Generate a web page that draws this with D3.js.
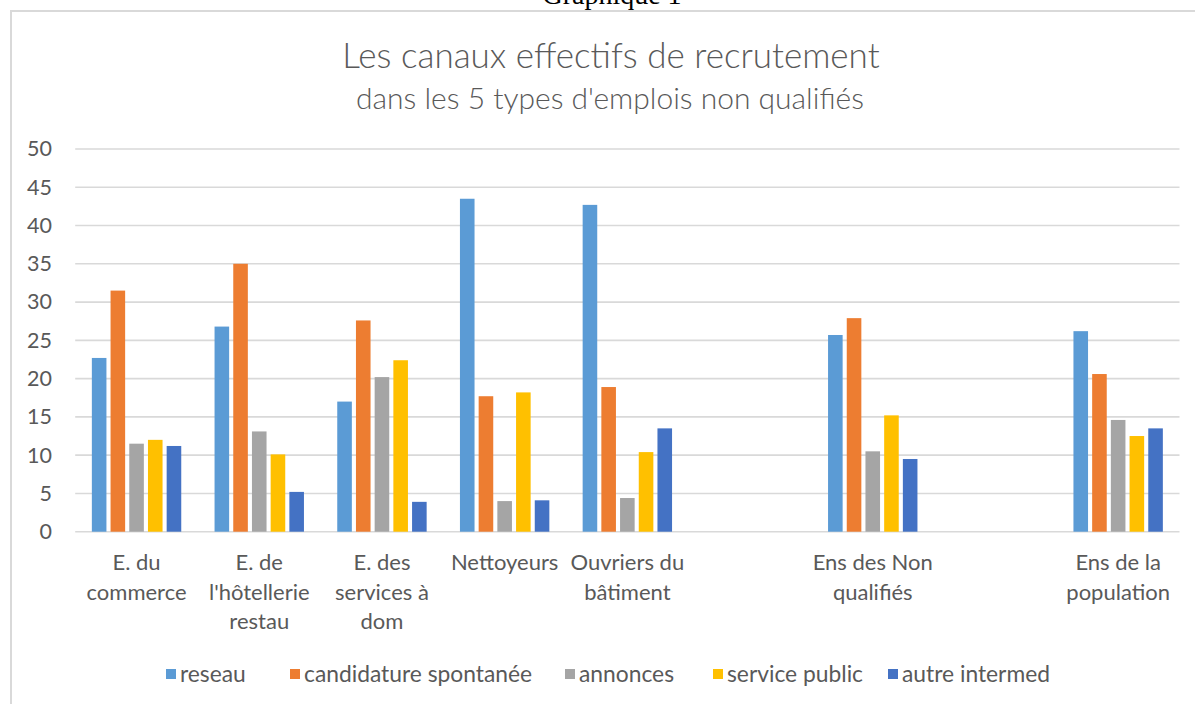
<!DOCTYPE html>
<html>
<head>
<meta charset="utf-8">
<script src="https://cdn.jsdelivr.net/npm/d3@7"></script>
<style>
  html, body { margin: 0; padding: 0; background: #fff; }
  svg { display: block; }
  text { font-family: Lato, "Open Sans", sans-serif; }
</style>
</head>
<body>
<svg id="chart" width="1195" height="704"></svg>
<script>
// ---- data ----
const categories = [
  ["E. du", "commerce"],
  ["E. de", "l'hôtellerie", "restau"],
  ["E. des", "services à", "dom"],
  ["Nettoyeurs"],
  ["Ouvriers du", "bâtiment"],
  [],
  ["Ens des Non", "qualifiés"],
  [],
  ["Ens de la", "population"]
];
const seriesNames = ["reseau", "candidature spontanée", "annonces", "service public", "autre intermed"];
const reseau      = [22.7, 26.8, 17.0, 43.5, 42.7, null, 25.7, null, 26.2];
const candidature = [31.5, 35.0, 27.6, 17.7, 18.9, null, 27.9, null, 20.6];
const annonces    = [11.5, 13.1, 20.2,  4.0,  4.4, null, 10.5, null, 14.6];
const servicePub  = [12.0, 10.1, 22.4, 18.2, 10.4, null, 15.2, null, 12.5];
const autre       = [11.2,  5.2,  3.9,  4.1, 13.5, null,  9.5, null, 13.5];
const yTicks = [0, 5, 10, 15, 20, 25, 30, 35, 40, 45, 50];
const colors = ["#5B9BD5", "#ED7D31", "#A5A5A5", "#FFC000", "#4472C4"];

const seriesValues = [reseau, candidature, annonces, servicePub, autre];

const svg = d3.select("#chart");
svg.append("rect").attr("width", 1195).attr("height", 704).attr("fill", "#fff");

// frame (cropped on right/bottom)
svg.append("path")
  .attr("d", "M11,704 L11,11 L1195,11")
  .attr("fill", "none").attr("stroke", "#d9d9d9").attr("stroke-width", 2);

// document caption above chart (cropped by the page edge, as in the reference)
svg.append("text")
  .attr("x", 612).attr("y", 4)
  .attr("text-anchor", "middle")
  .style("font-family", "'Liberation Serif', 'Times New Roman', serif")
  .style("font-size", "28px")
  .attr("fill", "#000")
  .text("Graphique 1");

// titles
svg.append("text")
  .attr("x", 611).attr("y", 68)
  .attr("text-anchor", "middle")
  .style("font-size", "35px").style("font-weight", 300)
  .attr("fill", "#595959")
  .text("Les canaux effectifs de recrutement");
svg.append("text")
  .attr("x", 610).attr("y", 109)
  .attr("text-anchor", "middle")
  .style("font-size", "30px").style("font-weight", 300)
  .attr("fill", "#595959")
  .text("dans les 5 types d'emplois non qualifiés");

// scales
const x0 = d3.scaleBand()
  .domain(d3.range(categories.length))
  .range([75.2, 1179.5])
  .paddingInner(0).paddingOuter(0);
const groupW = 89.4;
const x1 = d3.scaleBand()
  .domain(d3.range(seriesNames.length))
  .range([0, groupW])
  .paddingInner(0.22).paddingOuter(0);
const y = d3.scaleLinear().domain([0, 50]).range([531.7, 149]);

// gridlines
svg.append("g").selectAll("line").data(yTicks).join("line")
  .attr("x1", 75.2).attr("x2", 1179.5)
  .attr("y1", d => y(d)).attr("y2", d => y(d))
  .attr("stroke", "#d9d9d9").attr("stroke-width", 1.6);

// y axis labels
const yAxis = d3.axisLeft(y).tickValues(yTicks).tickSize(0).tickPadding(0);
const gy = svg.append("g").attr("transform", "translate(52,0)").call(yAxis);
gy.select(".domain").remove();
gy.selectAll("text")
  .style("font-family", "Lato, sans-serif")
  .style("font-size", "21.5px")
  .attr("fill", "#595959");

// bars
const groups = svg.append("g").selectAll("g").data(categories.map((c, i) => i)).join("g")
  .attr("transform", i => `translate(${x0(i) + (x0.bandwidth() - groupW) / 2},0)`);
groups.selectAll("rect")
  .data(i => seriesValues.map((s, k) => ({k, v: s[i]})).filter(d => d.v != null))
  .join("rect")
  .attr("x", d => x1(d.k))
  .attr("width", x1.bandwidth())
  .attr("y", d => y(d.v))
  .attr("height", d => y(0) - y(d.v))
  .attr("fill", d => colors[d.k]);

// category labels
const cl = svg.append("g").selectAll("text").data(categories.map((c, i) => i)).join("text")
  .attr("text-anchor", "middle")
  .style("font-size", "22px")
  .attr("fill", "#595959")
  .attr("transform", i => `translate(${x0(i) + x0.bandwidth() / 2},570)`);
cl.selectAll("tspan").data(i => categories[i]).join("tspan")
  .attr("x", 0).attr("y", (d, j) => j * 29.5)
  .text(d => d);

// legend
const legendX = [166, 290, 565, 713, 888];
const lg = svg.append("g").selectAll("g").data(seriesNames).join("g")
  .attr("transform", (d, i) => `translate(${legendX[i]},674)`);
lg.append("rect").attr("x", 0).attr("y", -5).attr("width", 10).attr("height", 10)
  .attr("fill", (d, i) => colors[i]);
lg.append("text").attr("x", 14).attr("y", 0).attr("dy", "0.35em")
  .style("font-size", "22.8px").attr("fill", "#595959")
  .text(d => d);
</script>
</body>
</html>
